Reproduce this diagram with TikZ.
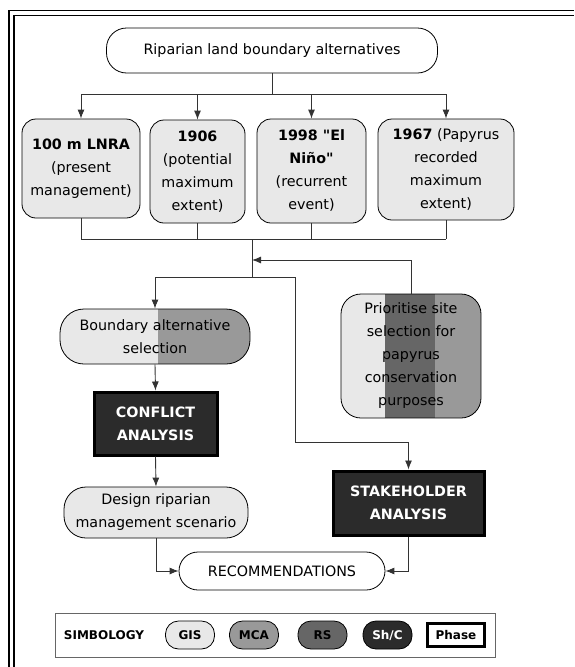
\documentclass[tikz,border=0pt]{standalone}
\usepackage{fontspec}
\setmainfont{DejaVu Sans}[Ligatures=TeXOff]
\usetikzlibrary{arrows.meta, positioning}

\definecolor{gisgray}{HTML}{E8E8E8}
\definecolor{mcagray}{HTML}{999999}
\definecolor{rsgray}{HTML}{666666}
\definecolor{shcgray}{HTML}{2B2B2B}

\begin{document}
\begin{tikzpicture}[
      x=1pt, y=-1pt,
      >={Latex[length=9pt,width=7pt]},
      font=\fontsize{14.3}{23}\selectfont,
      pill/.style={rectangle, draw, line width=0.8pt, fill=white, align=center, inner sep=1pt},
      alt/.style={rectangle, draw, line width=0.8pt, rounded corners=14pt, fill=gisgray, align=center, inner sep=1pt},
      phasebox/.style={rectangle, draw=black, line width=3pt, fill=shcgray, text=white, align=center, font=\fontsize{14.3}{23}\selectfont\bfseries},
      link/.style={draw=black!80, line width=0.9pt},
      key/.style={rectangle, draw, line width=0.8pt, rounded corners=13pt, minimum width=49pt, minimum height=28pt, inner sep=0pt, font=\fontsize{12}{14}\selectfont\bfseries}
  ]
      \useasboundingbox (0,0) rectangle (574,667);

      % frame
      \draw[line width=1.4pt] (9,667) -- (9,10.5) -- (574,10.5);
      \draw[line width=1.4pt] (14,667) -- (14,15.5) -- (574,15.5);

      % Boundary alternatives
      \node[pill, rounded corners=20pt, minimum width=331pt, minimum height=45pt] (top) at (272,50.5) {Riparian land boundary alternatives};

      \node[alt, minimum width=118pt, minimum height=99pt] (lnra) at (81,168.5) {\textbf{100 m LNRA}\\(present\\management)};
      \node[alt, minimum width=95pt, minimum height=103pt] (yr1906) at (197.5,171.5) {\textbf{1906}\\(potential\\maximum\\extent)};
      \node[alt, minimum width=109pt, minimum height=104pt] (nino) at (311.5,171) {\textbf{1998 "El}\\\textbf{Niño"}\\(recurrent\\event)};
      \node[alt, minimum width=136pt, minimum height=101pt] (yr1967) at (446,169.5) {\textbf{1967} (Papyrus\\recorded\\maximum\\extent)};

      \coordinate (busA) at (272,94);
      \coordinate (busB) at (252,239);
      \coordinate (split) at (252,277);
      \coordinate (feed) at (252,260);
      \coordinate (bypass) at (295,442);

      \draw[link] (top.south) -- (top.south |- busA);
      \draw[link] (lnra.north |- busA) -- (yr1967.north |- busA);
      \foreach \n in {lnra, yr1906, nino, yr1967}
        \draw[link, ->] (\n.north |- busA) -- (\n.north);
      \foreach \n in {lnra, yr1906, nino, yr1967}
        \draw[link] (\n.south) -- (\n.south |- busB);
      \draw[link] (lnra.south |- busB) -- (yr1967.south |- busB);
      \draw[link] (busB) -- (split);

      % Left branch
      \node[alt, rounded corners=24pt, minimum width=190pt, minimum height=55pt,
            path picture={\fill[mcagray, sharp corners] ([xshift=98pt]path picture bounding box.north west) rectangle (path picture bounding box.south east);}]
            (bound) at (155,336.5) {Boundary alternative\\selection};
      \node[phasebox, minimum width=123pt, minimum height=63pt] (conflict) at (155.5,423.5) {CONFLICT\\ANALYSIS};
      \node[alt, rounded corners=22pt, minimum width=184pt, minimum height=51pt] (design) at (156,512.5) {Design riparian\\management scenario};

      % Right branch
      \node[alt, rounded corners=20pt, minimum width=140pt, minimum height=124pt,
            path picture={\fill[rsgray, sharp corners] ([xshift=44pt]path picture bounding box.north west) rectangle ([xshift=94pt]path picture bounding box.south west);
                          \fill[mcagray, sharp corners] ([xshift=94pt]path picture bounding box.north west) rectangle (path picture bounding box.south east);}]
            (prior) at (411,356) {Prioritise site\\selection for\\papyrus\\conservation\\purposes};
      \node[phasebox, minimum width=151pt, minimum height=64pt] (stake) at (408.5,503) {STAKEHOLDER\\ANALYSIS};

      \node[pill, rounded corners=19pt, minimum width=206pt, minimum height=38pt] (rec) at (282,571) {RECOMMENDATIONS};

      \draw[link, ->] (prior.north) |- (feed);
      \draw[link, ->] (split) -| (bound.north);
      \draw[link, ->] (split) -| (bypass) -| (stake.north);
      \draw[link, ->] (bound.south) -- (conflict.north);
      \draw[link, ->] (conflict.south) -- (design.north);
      \draw[link, ->] (design.south) |- (rec.west);
      \draw[link, ->] (stake.south) |- (rec.east);

      % Simbology
      \node[rectangle, draw=black!60, line width=0.8pt, minimum width=440pt, minimum height=44pt] (legend) at (275,635) {};
      \node[font=\fontsize{12}{14}\selectfont\bfseries] (simb) at (104,635) {SIMBOLOGY};
      \node[key, fill=gisgray] (gis) at (190,635) {GIS};
      \node[key, fill=mcagray] (mca) at (254,635) {MCA};
      \node[key, fill=rsgray] (rs) at (322.5,635) {RS};
      \node[key, fill=shcgray, text=white] (shc) at (387.5,635) {Sh/C};
      \node[rectangle, draw, line width=2.5pt, fill=white, minimum width=57pt, minimum height=23pt, inner sep=0pt, font=\fontsize{12}{14}\selectfont\bfseries] (phase) at (456,635) {Phase};

  \end{tikzpicture}
\end{document}
